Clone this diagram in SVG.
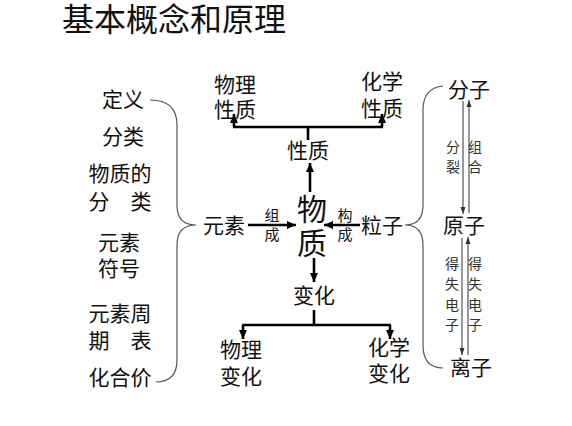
<svg xmlns="http://www.w3.org/2000/svg" width="572" height="426" viewBox="0 0 572 426">
<style>
text{font-family:"Noto Sans CJK SC","Noto Sans CJK TC",sans-serif;fill:#111;text-anchor:middle}
.t{font-size:32px;text-anchor:start}
.m{font-size:21px}
.b{font-size:30px}
.s{font-size:15px}
.xs{font-size:14px;fill:#333}
.thick{stroke:#000;stroke-width:2.6;fill:none}
.thin{stroke:#333;stroke-width:1;fill:none}
.brace{stroke:#555;stroke-width:1.2;fill:none}
</style>
<defs>
<marker id="ah" markerUnits="userSpaceOnUse" markerWidth="10" markerHeight="10" refX="9" refY="5" orient="auto">
<path d="M0,1 L9,5 L0,9 Z" fill="#000"/>
</marker>
<marker id="ahs" markerUnits="userSpaceOnUse" markerWidth="8" markerHeight="8" refX="7" refY="4" orient="auto">
<path d="M0,1.5 L7,4 L0,6.5 Z" fill="#333"/>
</marker>
</defs>
<rect width="572" height="426" fill="#fff"/>
<text class="t" x="62" y="31">基本概念和原理</text>

<g id="left-list">
<text class="m" x="123" y="107">定义</text>
<text class="m" x="123" y="144">分类</text>
<text class="m" x="120" y="181">物质的</text>
<text class="m" x="120" y="209">分　类</text>
<text class="m" x="119" y="250">元素</text>
<text class="m" x="119" y="276">符号</text>
<text class="m" x="120" y="321">元素周</text>
<text class="m" x="120" y="348">期　表</text>
<text class="m" x="120" y="385">化合价</text>
</g>

<g id="n-wuzhi"><text class="b" x="312" y="220">物</text><text class="b" x="312" y="254">质</text></g>
<g id="n-yuansu"><text class="m" x="224" y="233">元素</text></g>
<g id="n-lizi"><text class="m" x="382" y="233">粒子</text></g>
<g id="n-xingzhi"><text class="m" x="308" y="158">性质</text></g>
<g id="n-wulixingzhi"><text class="m" x="235" y="92">物理</text><text class="m" x="235" y="117">性质</text></g>
<g id="n-huaxuexingzhi"><text class="m" x="382" y="89">化学</text><text class="m" x="382" y="116">性质</text></g>
<g id="n-bianhua"><text class="m" x="314" y="303">变化</text></g>
<g id="n-wulibianhua"><text class="m" x="241" y="357">物理</text><text class="m" x="241" y="384">变化</text></g>
<g id="n-huaxuebianhua"><text class="m" x="389" y="355">化学</text><text class="m" x="389" y="381">变化</text></g>
<g id="n-fenzi"><text class="m" x="469" y="97">分子</text></g>
<g id="n-yuanzi"><text class="m" x="464" y="233">原子</text></g>
<g id="n-lizi2"><text class="m" x="471" y="375">离子</text></g>

<g id="labels">
<text class="s" x="272" y="221">组</text><text class="s" x="272" y="240">成</text>
<text class="s" x="345" y="221">构</text><text class="s" x="345" y="240">成</text>
<text class="xs" x="453" y="152">分</text><text class="xs" x="453" y="172">裂</text>
<text class="xs" x="475" y="152">组</text><text class="xs" x="475" y="172">合</text>
<text class="xs" x="452" y="269">得</text><text class="xs" x="452" y="289">失</text><text class="xs" x="452" y="310">电</text><text class="xs" x="452" y="330">子</text>
<text class="xs" x="475" y="269">得</text><text class="xs" x="475" y="289">失</text><text class="xs" x="475" y="310">电</text><text class="xs" x="475" y="330">子</text>
</g>

<g id="connectors">
<path class="brace" d="M150,100 Q177,100 177,125 L177,205 Q177,225 196,225 Q177,225 177,245 L177,360 Q177,382 156,382"/>
<path class="brace" d="M443,86 Q423,88 423,110 L423,205 Q423,225 405,225 Q423,225 423,245 L423,345 Q423,368 443,368"/>
<line class="thick" x1="310" y1="192" x2="310" y2="163" marker-end="url(#ah)"/>
<line class="thick" x1="308" y1="140" x2="308" y2="127"/>
<line class="thick" x1="233" y1="127" x2="383" y2="127"/>
<line class="thick" x1="234" y1="127" x2="234" y2="114" marker-end="url(#ah)"/>
<line class="thick" x1="382" y1="127" x2="382" y2="114" marker-end="url(#ah)"/>
<line class="thick" x1="248" y1="225" x2="296" y2="225" marker-end="url(#ah)"/>
<line class="thick" x1="360" y1="225" x2="324" y2="225" marker-end="url(#ah)"/>
<line class="thick" x1="314" y1="258" x2="314" y2="282" marker-end="url(#ah)"/>
<line class="thick" x1="314" y1="310" x2="314" y2="325"/>
<line class="thick" x1="242" y1="325" x2="391" y2="325"/>
<line class="thick" x1="243" y1="325" x2="243" y2="339" marker-end="url(#ah)"/>
<line class="thick" x1="390" y1="325" x2="390" y2="339" marker-end="url(#ah)"/>
<line class="thin" x1="463" y1="101" x2="463" y2="214" marker-end="url(#ahs)"/>
<line class="thin" x1="469" y1="213" x2="469" y2="100" marker-end="url(#ahs)"/>
<line class="thin" x1="462" y1="238" x2="462" y2="355" marker-end="url(#ahs)"/>
<line class="thin" x1="468" y1="355" x2="468" y2="237" marker-end="url(#ahs)"/>
</g>
</svg>
